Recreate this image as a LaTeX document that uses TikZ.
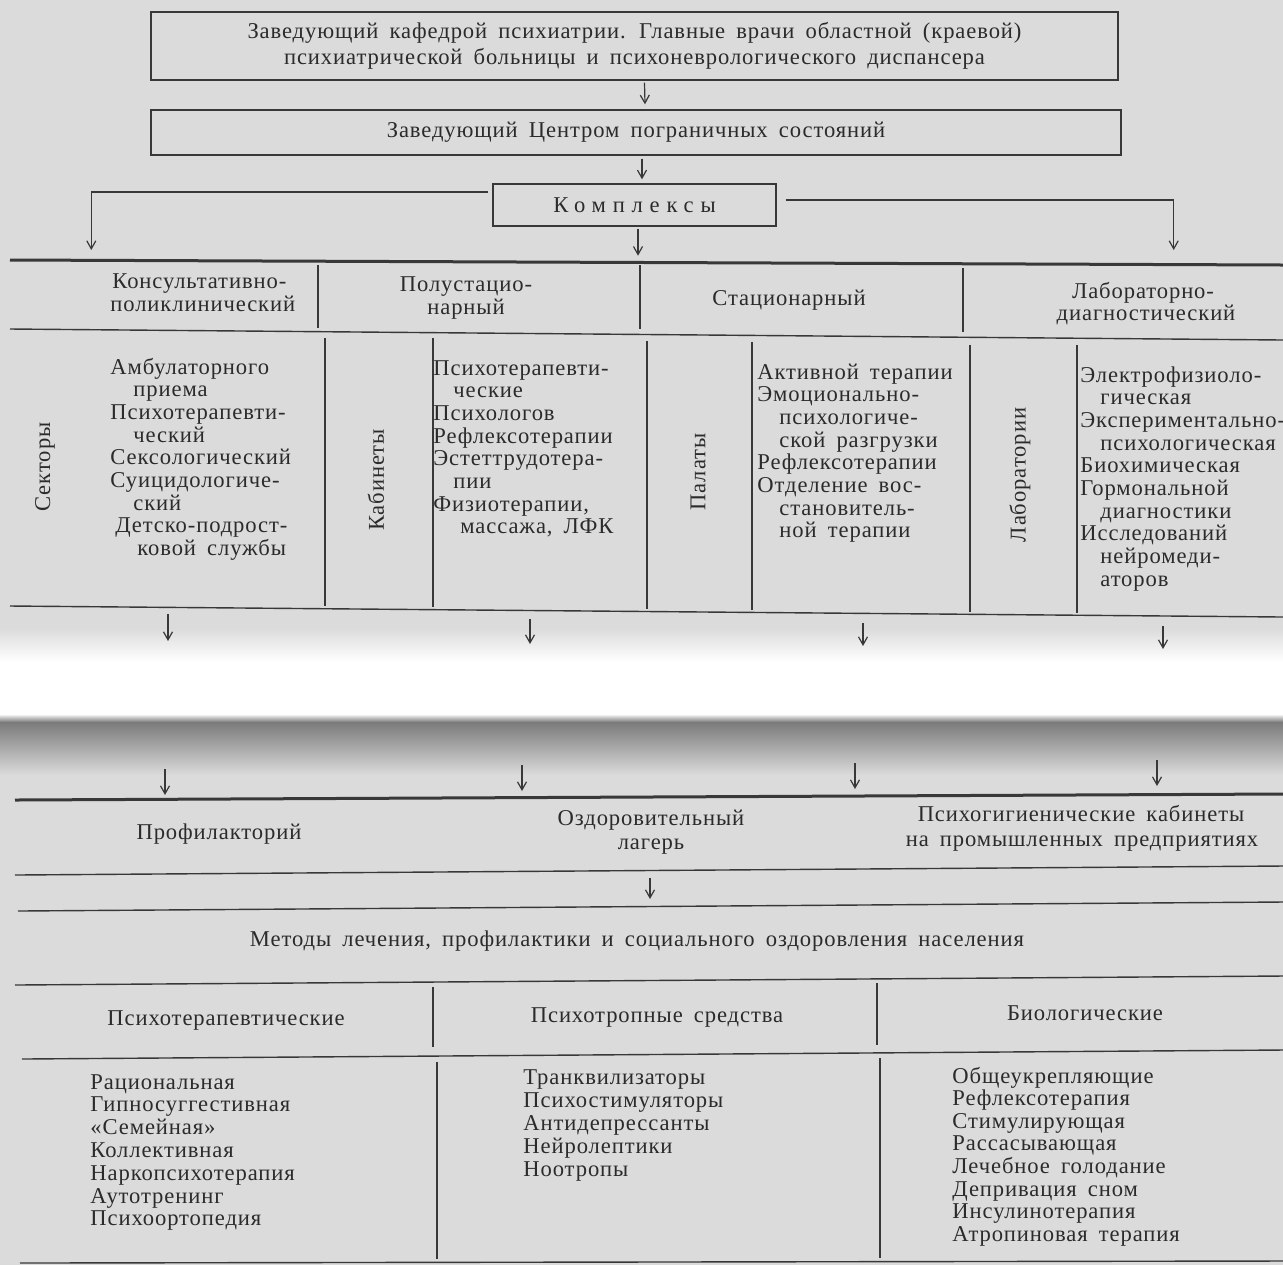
\documentclass[tikz,border=0pt]{standalone}
\usepackage{fontspec}
\setmainfont{Liberation Serif}[WordSpace=1.7,LetterSpace=4]
\usetikzlibrary{arrows.meta}
\definecolor{page}{HTML}{DBDBDB}
\definecolor{ink}{HTML}{2B2B2B}
\definecolor{rulec}{HTML}{383838}
\definecolor{fold}{HTML}{7A7A7A}
\newcommand\dfs{\fontsize{11.3}{13}\selectfont}
\begin{document}
\begin{tikzpicture}[x=0.5pt,y=-0.5pt,
  rl/.style={draw=rulec, line width=0.7pt},
  thk/.style={draw=rulec, line width=1.5pt},
  arr/.style={draw=rulec, line width=0.6pt, -{Straight Barb[length=4pt,width=4.5pt]}},
  t/.style={inner sep=0pt, text=ink, font=\dfs, anchor=base},
  tl/.style={t, anchor=base west},
  vl/.style={inner sep=0pt, text=ink, font=\dfs, rotate=90, anchor=center},
  box/.style={draw=rulec, line width=0.7pt, inner sep=0pt, align=center, text=ink, font=\dfs}]
\useasboundingbox (0,0) rectangle (1283,1265);
% page and fold
\fill[page] (0,0) rectangle (1283,1265);
\shade[top color=page, bottom color=white] (0,628) rectangle (1283,662);
\fill[white] (0,662) rectangle (1283,714);
\shade[top color=white, bottom color=fold] (0,714) rectangle (1283,722);
\shade[top color=fold, bottom color=page] (0,722) rectangle (1283,775);

% ---------- top boxes
\node[box, minimum width=483.5pt, minimum height=34pt] (b1) at (634.5,46)
  {Заведующий кафедрой психиатрии. Главные врачи областной (краевой)\\психиатрической больницы и психоневрологического диспансера};
\node[box, minimum width=485pt, minimum height=22.5pt] (b2) at (636,132.5)
  {Заведующий Центром пограничных состояний};
\node[box, minimum width=141.5pt, minimum height=21pt] (kx) at (634.5,205)
  {\addfontfeature{LetterSpace=30}Комплексы};
\draw[arr] ([xshift=5pt,yshift=-1pt]b1.south) -- ([xshift=4.5pt,yshift=2.5pt]b2.north);
\draw[arr] ([xshift=3pt,yshift=-1.5pt]b2.south) -- ([xshift=3.75pt,yshift=2pt]kx.north);
\draw[arr] ([xshift=1.75pt,yshift=-1pt]kx.south) -- ++(0,27);
\draw[arr] ([xshift=-2pt,yshift=6.5pt]kx.west) -- ++(-397,0) -- ++(0,58);
\draw[arr] ([xshift=4.5pt,yshift=2.5pt]kx.east) -- ++(388,0) -- ++(0,50);

% ---------- upper table
\draw[thk] (10,260) -- (1283,265);
\draw[rl] (10,329) -- (1283,340);
\draw[rl] (10,606) -- (1283,617);
\draw[rl] (318,265) -- (318,328);
\draw[rl] (640,265) -- (640,329);
\draw[rl] (963,268) -- (963,332);
\draw[rl] (325,338) -- (325,606);
\draw[rl] (433,338) -- (433,607);
\draw[rl] (647,341) -- (647,609);
\draw[rl] (752,342) -- (752,610);
\draw[rl] (970,345) -- (970,612);
\draw[rl] (1077,345) -- (1077,613);

\node[tl] (h1a) at (112,288) {Консультативно-};
\node[tl] (h1b) at (110,311) {поликлинический};
\node[t] (h2a) at (466,291) {Полустацио-};
\node[t] (h2b) at (466,314) {нарный};
\node[t] (h3) at (789,305) {Стационарный};
\node[t] (h4a) at (1143,298) {Лабораторно-};
\node[t] (h4b) at (1146,320) {диагностический};

\node[vl] (v1) at (45,467) {Секторы};
\node[vl] (v2) at (376,480) {Кабинеты};
\node[vl] (v3) at (698,472) {Палаты};
\node[vl] (v4) at (1020,475) {Лаборатории};

\foreach \dx/\tx [count=\i] in {0/Амбулаторного, 23/приема, 0/Психотерапевти-, 23/ческий,
   0/Сексологический, 0/Суицидологиче-, 23/ский, 5/Детско-подрост-, 27/ковой службы}
  \node[tl] (la\i) at ({110+\dx},{374+22.7*(\i-1)}) {\tx};
\foreach \dx/\tx [count=\i] in {0/Психотерапевти-, 20/ческие, 0/Психологов, 0/Рефлексотерапии,
   0/Эстеттрудотера-, 20/пии, 0/{Физиотерапии,}, 27/{массажа, ЛФК}}
  \node[tl] (lb\i) at ({433+\dx},{375+22.7*(\i-1)}) {\tx};
\foreach \dx/\tx [count=\i] in {0/Активной терапии, 0/Эмоционально-, 22/психологиче-, 22/ской разгрузки,
   0/Рефлексотерапии, 0/Отделение вос-, 22/становитель-, 22/ной терапии}
  \node[tl] (lc\i) at ({757+\dx},{379+22.7*(\i-1)}) {\tx};
\foreach \dx/\tx [count=\i] in {0/Электрофизиоло-, 20/гическая, 0/Экспериментально-, 20/психологическая,
   0/Биохимическая, 0/Гормональной, 20/диагностики, 0/Исследований, 20/нейромеди-, 20/аторов}
  \node[tl] (ld\i) at ({1080+\dx},{382+22.7*(\i-1)}) {\tx};

\coordinate (d1s) at (168,614); \coordinate (d1e) at (168,641);
\coordinate (d2s) at (530,619); \coordinate (d2e) at (530,644);
\coordinate (d3s) at (863,623); \coordinate (d3e) at (863,646);
\coordinate (d4s) at (1163,626); \coordinate (d4e) at (1163,649);
\draw[arr] (d1s) -- (d1e);
\draw[arr] (d2s) -- (d2e);
\draw[arr] (d3s) -- (d3e);
\draw[arr] (d4s) -- (d4e);

% ---------- lower part
\coordinate (u1s) at (165,769); \coordinate (u1e) at (165,795);
\coordinate (u2s) at (522,765); \coordinate (u2e) at (522,791);
\coordinate (u3s) at (855,763); \coordinate (u3e) at (855,789);
\coordinate (u4s) at (1157,760); \coordinate (u4e) at (1157,786);
\draw[arr] (u1s) -- (u1e);
\draw[arr] (u2s) -- (u2e);
\draw[arr] (u3s) -- (u3e);
\draw[arr] (u4s) -- (u4e);

\draw[thk] (15,800) -- (1283,794);
\draw[rl] (15,875) -- (1283,866);
\draw[rl] (18,911) -- (1283,902);
\draw[rl] (15,985) -- (1283,976);
\draw[rl] (22,1059) -- (1283,1050);
\draw[rl] (20,1263) -- (1283,1261);
\draw[rl] (433,987) -- (433,1047);
\draw[rl] (877,983) -- (877,1045);
\draw[rl] (437,1062) -- (437,1259);
\draw[rl] (880,1058) -- (880,1258);

\coordinate (ms) at (650,878); \coordinate (me) at (650,899);
\draw[arr] (ms) -- (me);

\node[t] (p1) at (219,839) {Профилакторий};
\node[t] (p2a) at (651,825) {Оздоровительный};
\node[t] (p2b) at (651,849) {лагерь};
\node[t] (p3a) at (1081,821) {Психогигиенические кабинеты};
\node[t] (p3b) at (1082,846) {на промышленных предприятиях};
\node[t] (mt) at (637,946) {Методы лечения, профилактики и социального оздоровления населения};
\node[t] (q1) at (226,1025) {Психотерапевтические};
\node[t] (q2) at (657,1022) {Психотропные средства};
\node[t] (q3) at (1085,1020) {Биологические};

\foreach \tx [count=\i] in {Рациональная, Гипносуггестивная, «Семейная», Коллективная,
   Наркопсихотерапия, Аутотренинг, Психоортопедия}
  \node[tl] (ma\i) at (90,{1089+22.8*(\i-1)}) {\tx};
\foreach \tx [count=\i] in {Транквилизаторы, Психостимуляторы, Антидепрессанты, Нейролептики, Ноотропы}
  \node[tl] (mb\i) at (523,{1084+23*(\i-1)}) {\tx};
\foreach \tx [count=\i] in {Общеукрепляющие, Рефлексотерапия, Стимулирующая, Рассасывающая,
   Лечебное голодание, Депривация сном, Инсулинотерапия, Атропиновая терапия}
  \node[tl] (mc\i) at (952,{1083+22.6*(\i-1)}) {\tx};
\end{tikzpicture}
\end{document}
